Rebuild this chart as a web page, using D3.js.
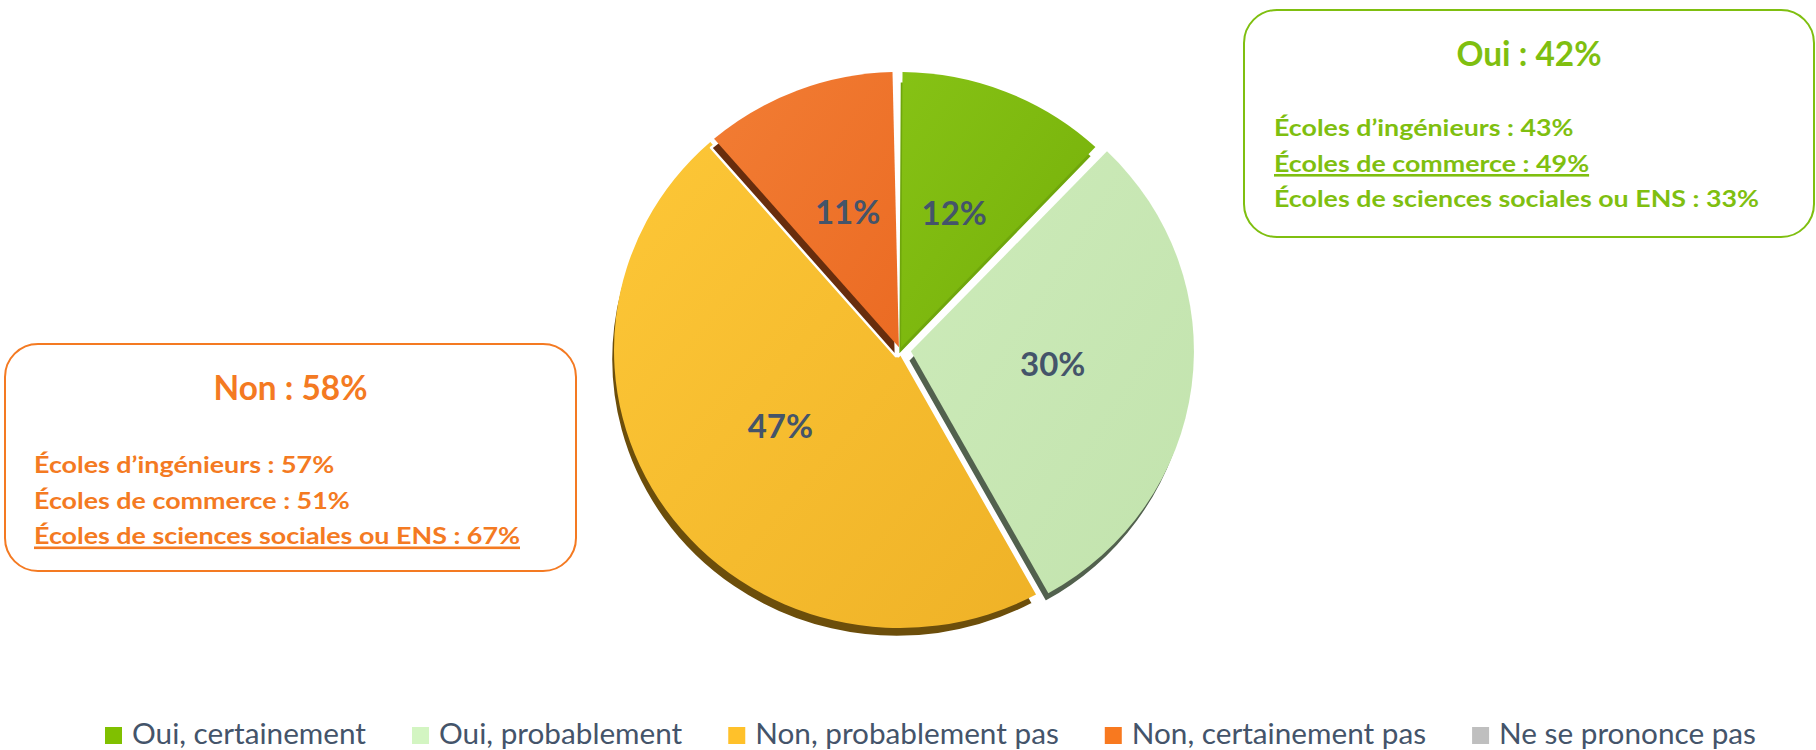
<!DOCTYPE html>
<html><head><meta charset="utf-8">
<script src="https://cdn.jsdelivr.net/npm/d3@7"></script>
<style>
html,body{margin:0;padding:0;background:#fff;}
svg{display:block;font-family:Lato,"Open Sans",sans-serif;}
</style>
</head><body>
<svg id="chart" width="1816" height="750"></svg>
<script>
// ---------- data ----------
const categories = ["Oui, certainement", "Oui, probablement", "Non, probablement pas", "Non, certainement pas", "Ne se prononce pas"];
const values = [12, 30, 47, 11, 0];
const ouiTitle = "Oui : 42%";
const ouiLines = ["Écoles d’ingénieurs : 43%", "Écoles de commerce : 49%", "Écoles de sciences sociales ou ENS : 33%"];
const ouiUnderlined = 1;
const nonTitle = "Non : 58%";
const nonLines = ["Écoles d’ingénieurs : 57%", "Écoles de commerce : 51%", "Écoles de sciences sociales ou ENS : 67%"];
const nonUnderlined = 2;

// ---------- styles ----------
const faceTop    = ["#86c215", "#cdebba", "#fdc737", "#f27d34", "#bfbfbf"];
const faceBottom = ["#75af09", "#c2e3ad", "#efb227", "#eb6b23", "#b0b0b0"];
const sideColor  = ["#6fa60c", "#52614e", "#6c4e0b", "#682d0d", "#888888"];
const legendColor = ["#80c000", "#d3f5c2", "#ffc12a", "#f8791f", "#bfbfbf"];
const textDark = "#44546a";
const green = "#7fbf10", orange = "#f47a22";

const svg = d3.select("#chart");
const defs = svg.append("defs");

// ---------- pie ----------
const cx = 900, cy = 350, R = 286, sy = 0.972;
const explode = [0, 8, 0, 0, 0];
const pie = d3.pie().sort(null).value(d => d).startAngle(0).endAngle(2 * Math.PI).padAngle(5 / R);
const arcs = pie(values);
const arc = d3.arc().innerRadius(3).outerRadius(R).padRadius(R);
const labelArc = d3.arc().innerRadius(146).outerRadius(146);

arcs.forEach((a, i) => {
  const g = defs.append("linearGradient").attr("id", "grad" + i)
    .attr("x1", 0).attr("y1", 0).attr("x2", 1).attr("y2", 1);
  g.append("stop").attr("offset", "0%").attr("stop-color", faceTop[i]);
  g.append("stop").attr("offset", "100%").attr("stop-color", faceBottom[i]);
});

function offsetOf(a, i) {
  const mid = (a.startAngle + a.endAngle) / 2;
  return [Math.sin(mid) * explode[i], -Math.cos(mid) * explode[i]];
}

const pieG = svg.append("g").attr("transform", `translate(${cx},${cy}) scale(1,${sy})`);
const drawOrder = [2, 1, 0, 3];
drawOrder.forEach(i => {
  const a = arcs[i];
  if (a.endAngle - a.startAngle <= 0) return;
  const [ox, oy] = offsetOf(a, i);
  const sg = pieG.append("g").attr("transform", `translate(${ox},${oy})`);
  sg.append("path").attr("d", arc(a))
    .attr("transform", `translate(-3,${9 / sy})`)
    .attr("fill", sideColor[i]).attr("stroke", "#fff").attr("stroke-width", 2.5)
    .attr("stroke-linejoin", "round");
  sg.append("path").attr("d", arc(a)).attr("fill", `url(#grad${i})`);
});

// labels
arcs.forEach((a, i) => {
  if (a.value <= 0) return;
  const c = labelArc.centroid(a);
  const [ox, oy] = offsetOf(a, i);
  svg.append("text")
    .attr("x", cx + c[0] + ox)
    .attr("y", cy + (c[1] + oy) * sy - 5)
    .attr("dy", "0.36em")
    .attr("text-anchor", "middle")
    .attr("font-weight", 700).attr("font-size", 33)
    .attr("fill", textDark)
    .text(a.value + "%");
});

// ---------- boxes ----------
function drawBox(x, y, w, h, color, title, lines, ul, titleBase, lineX, firstBase, titleW, maxLineW) {
  svg.append("rect").attr("x", x).attr("y", y).attr("width", w).attr("height", h)
    .attr("rx", 33).attr("ry", 33).attr("fill", "#fff")
    .attr("stroke", color).attr("stroke-width", 2);
  const t = svg.append("text").attr("x", x + w / 2).attr("y", titleBase)
    .attr("text-anchor", "middle").attr("font-weight", 700).attr("font-size", 34)
    .attr("fill", color).text(title);
  t.attr("textLength", titleW).attr("lengthAdjust", "spacingAndGlyphs");
  const nodes = lines.map((s, k) => svg.append("text")
    .attr("x", lineX).attr("y", firstBase + k * 35.5)
    .attr("font-weight", 700).attr("font-size", 23)
    .attr("fill", color).text(s));
  const widths = nodes.map(n => n.node().getComputedTextLength());
  const f = maxLineW / d3.max(widths);
  nodes.forEach((n, k) => {
    n.attr("textLength", widths[k] * f).attr("lengthAdjust", "spacingAndGlyphs");
    if (k === ul) {
      svg.append("rect").attr("x", lineX).attr("y", firstBase + k * 35.5 + 2.5)
        .attr("width", widths[k] * f).attr("height", 2.6).attr("fill", color);
    }
  });
}
drawBox(1244, 10, 570, 227, green, ouiTitle, ouiLines, ouiUnderlined, 66, 1274, 136, 145, 485);
drawBox(5, 344, 571, 227, orange, nonTitle, nonLines, nonUnderlined, 400, 34, 473, 154, 486);

// ---------- legend ----------
const legStart = 105, legEnd = 1756, sq = 17, txtOff = 27, gap = 46, legBase = 744;
const legG = svg.append("g");
const legTexts = categories.map(c => legG.append("text")
  .attr("font-size", 29).attr("fill", textDark).attr("y", legBase).text(c));
const natural = legTexts.map(t => t.node().getComputedTextLength());
const fac = (legEnd - legStart - categories.length * txtOff - (categories.length - 1) * gap) / d3.sum(natural);
let xPos = legStart;
categories.forEach((c, i) => {
  const w = natural[i] * fac;
  legG.append("rect").attr("x", xPos).attr("y", legBase - sq).attr("width", sq).attr("height", sq)
    .attr("fill", legendColor[i]);
  legTexts[i].attr("x", xPos + txtOff).attr("textLength", w).attr("lengthAdjust", "spacingAndGlyphs");
  xPos += txtOff + w + gap;
});
</script>
</body></html>
